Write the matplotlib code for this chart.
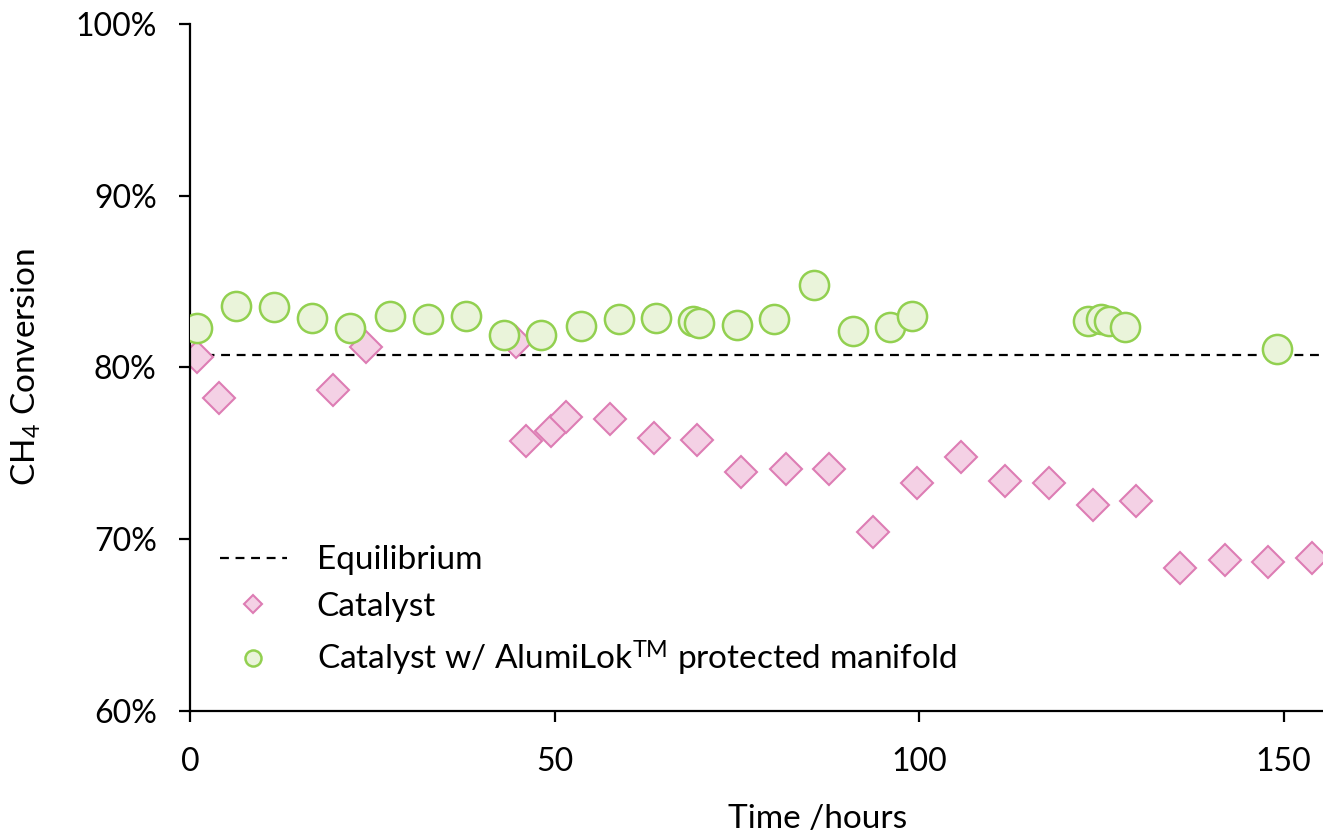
import matplotlib
matplotlib.use("Agg")
import matplotlib.pyplot as plt
from matplotlib.ticker import FuncFormatter

plt.rcParams['font.family'] = ['Lato', 'DejaVu Sans']
plt.rcParams['mathtext.default'] = 'regular'

# equilibrium conversion (%)
equilibrium = 80.7

# catalyst alone
cat_time = [1.0, 4.0, 19.6, 24.2, 44.7, 46.1, 49.5, 51.6, 57.6, 63.6, 69.5, 75.6,
            81.7, 87.7, 93.7, 99.7, 105.8, 111.8, 117.8, 123.8, 129.8, 135.8,
            141.9, 147.9, 153.9]
cat_conv = [80.6, 78.2, 78.7, 81.2, 81.5, 75.7, 76.3, 77.1, 77.0, 75.9, 75.8, 73.9,
            74.1, 74.1, 70.4, 73.3, 74.8, 73.4, 73.3, 72.0, 72.2, 68.3,
            68.8, 68.7, 68.9]

# catalyst with protected manifold
prot_time = [1.0, 6.3, 11.5, 16.7, 21.9, 27.4, 32.6, 37.8, 43.0, 48.2, 53.6, 58.8,
             63.9, 69.0, 69.8, 75.0, 80.1, 85.6, 90.9, 96.0, 99.0, 123.1,
             125.0, 126.1, 128.3, 149.1]
prot_conv = [82.3, 83.6, 83.5, 82.9, 82.3, 83.0, 82.8, 83.0, 81.9, 81.9, 82.4, 82.8,
             82.9, 82.7, 82.6, 82.5, 82.8, 84.8, 82.1, 82.35, 83.0, 82.7,
             82.8, 82.7, 82.35, 81.1]

fig = plt.figure(figsize=(13.23, 8.38), dpi=100)
ax = fig.add_axes([190 / 1323, 127 / 838, 1 - 190 / 1323, 687 / 838])

ax.axhline(equilibrium, color='black', lw=1.6, ls=(0, (4, 3)), label='Equilibrium', zorder=1)
ax.plot(cat_time, cat_conv, ls='none', marker='D', ms=16.5, mfc='#F4D1E5',
        mec='#DD7DB4', mew=1.5, label='Catalyst', zorder=2)
ax.plot(prot_time, prot_conv, ls='none', marker='o', ms=21, mfc='#EAF4DA',
        mec='#92D050', mew=1.8, label='Catalyst w/ AlumiLok$^{TM}$ protected manifold',
        zorder=3)

ax.set_xlim(0, 155.4)
ax.set_ylim(60, 100)
ax.set_xticks([0, 50, 100, 150])
ax.set_yticks([60, 70, 80, 90, 100])
ax.yaxis.set_major_formatter(FuncFormatter(lambda v, p: f'{v:.0f}%'))

for side in ['top', 'right']:
    ax.spines[side].set_visible(False)
for side in ['left', 'bottom']:
    ax.spines[side].set_linewidth(1.6)
ax.tick_params(axis='both', direction='out', length=8, width=1.6, labelsize=23,
               colors='black')
ax.tick_params(axis='y', pad=16)
ax.tick_params(axis='x', pad=18)

ax.set_xlabel('Time /hours', fontsize=24)
ax.xaxis.set_label_coords(0.554, -0.135)
ax.set_ylabel('CH$_4$ Conversion', fontsize=24)
ax.yaxis.set_label_coords(-0.13, 0.5)

ax.legend(loc='upper left', bbox_to_anchor=(0.0, 0.285), frameon=False, fontsize=24,
          markerscale=0.55, handlelength=2.0, handletextpad=0.9, labelspacing=0.5)

fig.savefig('out.png', dpi=100)
